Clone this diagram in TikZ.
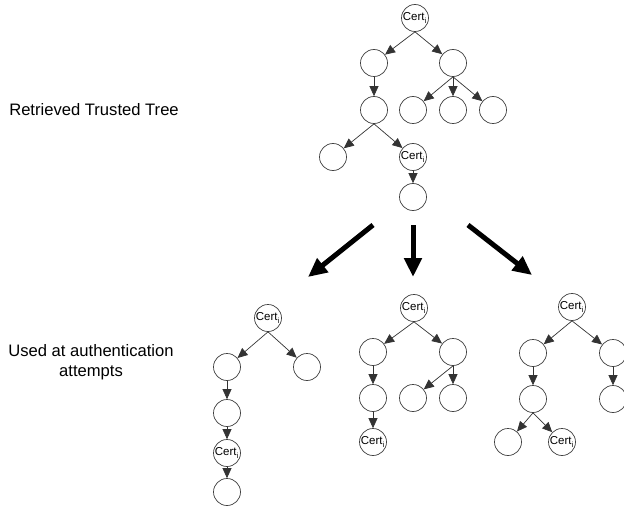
\documentclass[tikz,border=0pt]{standalone}
\usepackage{fontspec}
\setmainfont{Liberation Sans}
\usetikzlibrary{arrows.meta}
\tikzset{
  tn/.style={circle,draw=black!75,line width=0.7pt,minimum size=27pt,inner sep=0pt,font=\fontsize{11.5}{12}\selectfont},
  edge/.style={draw=black!80,line width=0.7pt,-{Triangle[length=10pt,width=9pt]}},
  big/.style={line width=5pt,-{Triangle[length=19pt,width=17pt]}},
  lbl/.style={font=\fontsize{16.6}{19.5}\selectfont,align=center,inner sep=0pt}
}
\newcommand{\certi}{\hspace*{-1pt}Cert\raisebox{-0.6ex}{\fontsize{7.5}{7.5}\selectfont i}}
\begin{document}
\begin{tikzpicture}[x=1pt,y=-1pt]
\useasboundingbox (0,0) rectangle (624,508);
% top tree
\node[tn] (t0) at (415,18) {\certi};
\node[tn] (t1) at (374,63) {};
\node[tn] (t2) at (453,63) {};
\node[tn] (t3) at (374,110) {};
\node[tn] (t4) at (413,110) {};
\node[tn] (t5) at (453,110) {};
\node[tn] (t6) at (493,110) {};
\node[tn] (t7) at (333,157) {};
\node[tn] (t8) at (413,157) {\certi};
\node[tn] (t9) at (413,197) {};
\foreach \p/\c in {t0/t1,t0/t2,t1/t3,t2/t4,t2/t5,t2/t6,t3/t7,t3/t8,t8/t9}
  \draw[edge] (\p.south) -- (\c);
% tree A
\node[tn] (a0) at (268,318) {\certi};
\node[tn] (a1) at (227,367) {};
\node[tn] (a2) at (307,367) {};
\node[tn] (a3) at (227,413) {};
\node[tn] (a4) at (227,453) {\certi};
\node[tn] (a5) at (227,492) {};
\foreach \p/\c in {a0/a1,a0/a2,a1/a3,a3/a4,a4/a5}
  \draw[edge] (\p.south) -- (\c);
% tree B
\node[tn] (b0) at (414,308) {\certi};
\node[tn] (b1) at (373,352) {};
\node[tn] (b2) at (453,352) {};
\node[tn] (b3) at (373,398) {};
\node[tn] (b4) at (413,398) {};
\node[tn] (b5) at (453,398) {};
\node[tn] (b6) at (373,442) {\certi};
\foreach \p/\c in {b0/b1,b0/b2,b1/b3,b2/b4,b2/b5,b3/b6}
  \draw[edge] (\p.south) -- (\c);
% tree C
\node[tn] (c0) at (572,307) {\certi};
\node[tn] (c1) at (533,353) {};
\node[tn] (c2) at (613,353) {};
\node[tn] (c3) at (533,399) {};
\node[tn] (c4) at (613,399) {};
\node[tn] (c5) at (508,442) {};
\node[tn] (c6) at (562,442) {\certi};
\foreach \p/\c in {c0/c1,c0/c2,c1/c3,c2/c4,c3/c5,c3/c6}
  \draw[edge] (\p.south) -- (\c);
% big arrows
\coordinate (L1) at (373,225); \coordinate (L2) at (308,277);
\coordinate (M1) at (413,225); \coordinate (M2) at (413,277);
\coordinate (R1) at (468,225); \coordinate (R2) at (532,275);
\draw[big] (L1) -- (L2);
\draw[big] (M1) -- (M2);
\draw[big] (R1) -- (R2);
% labels
\node[lbl] (lab1) at (94,110) {Retrieved Trusted Tree};
\node[lbl] (lab2) at (91,362) {Used at authentication\\attempts};
\end{tikzpicture}
\end{document}
